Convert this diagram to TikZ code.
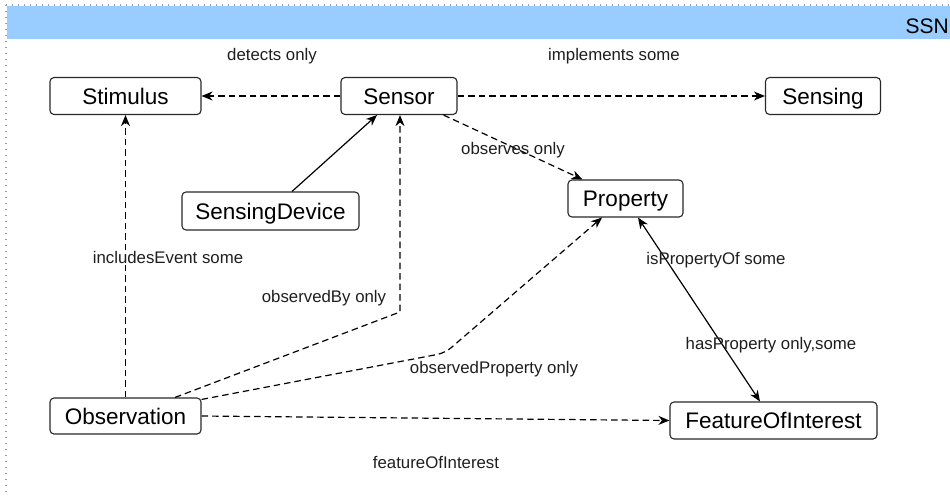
\documentclass[tikz,border=0pt]{standalone}
\usepackage{fontspec}
\setmainfont{Liberation Sans}
\usetikzlibrary{arrows.meta,calc}

\definecolor{bandblue}{RGB}{153,204,255}
\definecolor{framedot}{RGB}{150,150,200}
\definecolor{boxline}{RGB}{40,40,40}
\definecolor{labeltext}{RGB}{30,30,30}

\tikzset{
  classbox/.style={draw=boxline, line width=1.1pt, rounded corners=4pt, fill=white,
    inner sep=0pt, text height=20pt, text depth=3.9pt,
    font=\fontsize{22.5}{27}\selectfont},
  rellabel/.style={inner sep=0pt, text=labeltext, text height=15pt, text depth=3pt,
    font=\fontsize{16.8}{20}\selectfont},
  relation/.style={draw=black, line width=1.2pt, dash pattern=on 6.5pt off 4pt,
    -{Stealth[length=11pt,width=9pt,inset=3.5pt]}},
  subclass/.style={draw=black, line width=1.2pt,
    -{Stealth[length=11pt,width=9pt,inset=3.5pt]}},
  inverse/.style={draw=black, line width=1.2pt,
    {Stealth[length=11pt,width=9pt,inset=3.5pt]}-{Stealth[length=11pt,width=9pt,inset=3.5pt]}},
}

\begin{document}
\begin{tikzpicture}[x=1pt,y=-1pt]
  \useasboundingbox (0,0) rectangle (950,496);

  % package frame and title band
  \fill[bandblue] (7,6) rectangle (950,39);
  \draw[framedot, line width=1.3pt, dash pattern=on 1.3pt off 4.7pt] (6,5) -- (950,5);
  \draw[framedot, line width=1.3pt, dash pattern=on 1.3pt off 4.7pt] (6,5) -- (6,496);
  \node[anchor=east, inner sep=0pt, font=\fontsize{21}{25}\selectfont] (title) at (949,26) {SSN};

  % classes
  \node[classbox, minimum width=151pt, minimum height=37pt] (stim) at (125.5,96) {Stimulus};
  \node[classbox, minimum width=116pt, minimum height=37pt] (sensor) at (399,96) {Sensor};
  \node[classbox, minimum width=115pt, minimum height=37pt] (sensing) at (823,96) {Sensing};
  \node[classbox, minimum width=177pt, minimum height=38pt] (device) at (270.5,211) {SensingDevice};
  \node[classbox, minimum width=115pt, minimum height=37pt] (prop) at (625.5,198.5) {Property};
  \node[classbox, minimum width=151pt, minimum height=36pt] (obs) at (125.5,416) {Observation};
  \node[classbox, minimum width=207pt, minimum height=37pt] (foi) at (773.5,420.5) {FeatureOfInterest};

  % bend points
  \coordinate (bendBy) at (400,312);
  \coordinate (bendProp) at (445,353);

  % relations
  \draw[relation] (sensor.west) -- (stim.east);
  \draw[relation] (sensor.east) -- (sensing.west);
  \draw[relation] ([xshift=-14pt]sensor.south east) -- ([xshift=15pt]prop.north west);
  \draw[subclass] ([xshift=21.5pt]device.north) -- ([xshift=-22pt]sensor.south);
  \draw[relation] (obs.north) -- (stim.south);
  \draw[relation] ([xshift=49.5pt]obs.north) -- (bendBy) -- ([xshift=1pt]sensor.south);
  \draw[relation, rounded corners=8pt] ([yshift=-2pt]obs.north east) -- (bendProp) -- ([xshift=-23.5pt]prop.south);
  \draw[relation] (obs.east) -- (foi.west);
  \draw[inverse] ([xshift=12.5pt]prop.south) -- ([xshift=-13.5pt]foi.north);

  % relation labels
  \node[rellabel] (lDetects) at (272,54) {detects only};
  \node[rellabel] (lImpl) at (614,54) {implements some};
  \node[rellabel] (lObserves) at (513,148) {observes only};
  \node[rellabel] (lIncl) at (168,257) {includesEvent some};
  \node[rellabel] (lBy) at (324,296) {observedBy only};
  \node[rellabel] (lObsProp) at (494,367) {observedProperty only};
  \node[rellabel] (lFoi) at (436,462) {featureOfInterest};
  \node[rellabel] (lIsProp) at (716,258) {isPropertyOf some};
  \node[rellabel] (lHasProp) at (771,343) {hasProperty only,some};
\end{tikzpicture}
\end{document}
